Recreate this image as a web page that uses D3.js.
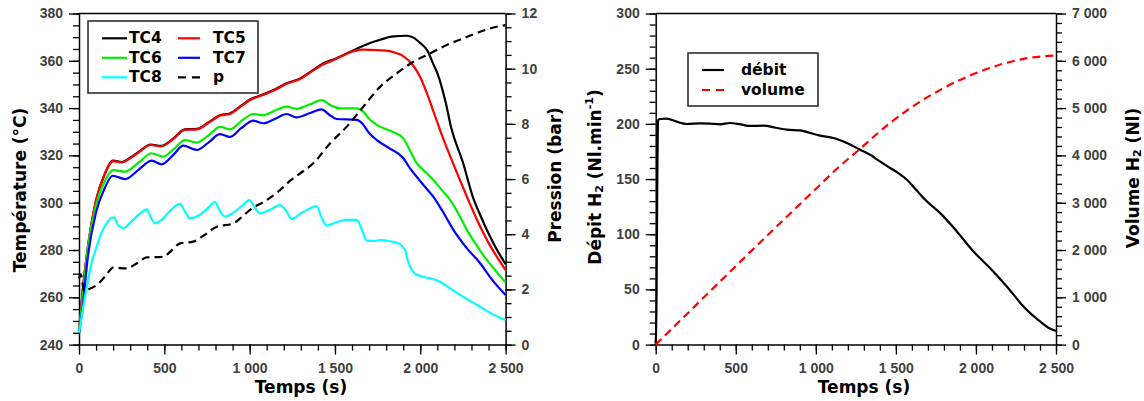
<!DOCTYPE html>
<html><head><meta charset="utf-8">
<script src="https://cdn.jsdelivr.net/npm/d3@7"></script>
<style>
body{margin:0;background:#fff;}
svg{display:block;font-family:"DejaVu Sans",sans-serif;}
.tick text{font-size:14px;font-weight:bold;fill:#404040;}
.title{font-size:17px;font-weight:bold;fill:#000;}
.leg{font-size:15.5px;font-weight:bold;fill:#000;}
</style></head>
<body>
<svg id="c" width="1144" height="401"></svg>
<script>
// ---------- data: left chart ----------
const tTC4 = [0,25,50,100,150,200,250,300,350,420,480,550,620,690,760,830,880,950,1000,1080,1150,1220,1290,1360,1430,1500,1590,1650,1710,1770,1830,1920,1960,2000,2040,2080,2100,2150,2180,2250,2310,2350,2400,2450,2500];
const TC4  = [245,265,280,301,312,317.8,317.2,319,321.5,324.6,324,327,331,331.2,334,337.1,337.6,341,343.5,345.8,348,350.6,352.3,355.5,358.9,360.8,363.8,365.8,367.6,369,370.2,370.6,369.8,367.5,364.5,358,354.8,342,332,317,302,295,287,280,274];
const tTC5 = [0,25,50,100,150,200,250,300,350,420,480,550,620,690,760,830,880,950,1000,1080,1150,1220,1290,1360,1430,1500,1550,1600,1660,1750,1820,1870,1900,1960,2000,2040,2090,2140,2190,2230,2300,2350,2400,2450,2500];
const TC5  = [245,265,280,301,312,317.6,317,318.8,321.3,324.4,323.8,326.8,330.8,331,333.8,336.9,337.4,340.8,343.3,345.6,347.8,350.4,352.1,355.3,358.4,360.6,362.3,363.8,364.7,364.5,364.1,363,362,357.8,353,346,336,326,317,310,298,290,283,277,271.5];
const tTC6 = [0,25,50,100,150,200,270,350,426,494,560,621,690,760,826,885,950,1022,1080,1150,1217,1275,1350,1422,1480,1530,1628,1666,1700,1745,1820,1901,1940,1979,2030,2077,2130,2175,2230,2273,2330,2390,2450,2500];
const TC6  = [245,262,280,299,309,313.8,313.1,317,320.9,319.5,323,326.5,325.4,328.5,332.1,331,334.5,337.5,337,339,340.6,339.7,341.5,343.4,341,339.9,339.9,338.5,335.5,332.9,330.5,327.2,322,316.7,313,309.6,305,301.1,294.5,288.5,282,275.8,270.5,266.3];
const tTC7 = [0,25,50,100,150,197,270,350,426,484,550,611,690,760,826,885,950,1022,1080,1150,1217,1275,1350,1422,1470,1510,1628,1660,1700,1745,1820,1901,1940,1979,2030,2077,2130,2194,2270,2351,2420,2500];
const TC7  = [245,258,276,296,306,311.4,310,314,317.8,316.2,320,324.1,322.3,325.5,329,327.8,331.5,334.7,333.6,335.5,337.5,336.1,337.8,339.5,337,335.4,335,333.5,329.5,326.5,323,318.8,314.5,311,306.5,302.5,296.5,288.5,281,274.4,267.5,261];
const tTC8 = [0,25,50,75,104,130,162,190,205,225,260,300,350,397,420,445,480,540,592,615,651,700,760,797,825,856,900,960,999,1030,1061,1120,1178,1210,1247,1300,1360,1393,1420,1452,1500,1569,1628,1660,1686,1730,1764,1830,1872,1911,1925,1940,1970,1999,2060,2116,2170,2234,2290,2351,2420,2500];
const TC8  = [245,256,266,275,281.4,287,291.3,293.6,293.8,291,289.2,291.5,295,297.2,294,291.3,292.5,297,299.5,297,293.4,294.5,298,300.4,296.5,294.1,295.5,299,301.1,298,295.5,297,299,297,293.1,295.5,297.8,298.6,294,290.3,291.5,292.7,292.7,288,284,283.8,284.2,283.6,282.8,280,276,272.9,270,269,268,266.6,264,261,258.5,256,253,250.4];
const tP   = [0,10,30,45,104,150,201,279,340,397,494,540,592,670,730,807,904,950,1002,1100,1178,1240,1295,1373,1471,1569,1666,1764,1862,1960,2057,2155,2253,2351,2448,2500];
const P    = [2.4,2.55,1.95,1.98,2.16,2.45,2.79,2.76,2.95,3.16,3.18,3.4,3.67,3.73,3.95,4.27,4.39,4.6,4.88,5.24,5.6,5.95,6.2,6.57,7.29,7.9,8.62,9.34,9.83,10.25,10.55,10.86,11.1,11.34,11.52,11.58];
// ---------- data: right chart ----------
const tDebit = [0,5,10,15,25,69,130,194,277,340,402,464,530,589,673,750,819,902,960,1027,1110,1193,1277,1339,1400,1464,1520,1569,1625,1683,1777,1881,1985,2089,2194,2298,2402,2450,2500];
const debit  = [0,40,150,203,204.4,204.7,202,199.9,200.5,200.3,199.6,200.8,199.5,198.1,198.4,196.5,194.7,194.1,192,189.3,187.2,182.7,176.6,172,166,160,155,149.4,140.5,131.2,119.1,102.5,84.3,69.2,52.5,34.4,20.8,15.5,12.3];
const tVol   = [0,250,500,750,1000,1152,1277,1370,1464,1570,1673,1780,1881,1985,2089,2194,2298,2400,2500];
const volume = [0,830,1660,2480,3290,3780,4140,4420,4686,4950,5182,5390,5566,5720,5850,5960,6041,6090,6111];
// ---------- ticks / labels ----------
const xTicks = [0,500,1000,1500,2000,2500];
const tempTicks = [240,260,280,300,320,340,360,380];
const presTicks = [0,2,4,6,8,10,12];
const debitTicks = [0,50,100,150,200,250,300];
const volTicks = [0,1000,2000,3000,4000,5000,6000,7000];
const legLeft = ["TC4","TC5","TC6","TC7","TC8","p"];
const legRight = ["débit","volume"];

const svg = d3.select("#c");
const fmt = d => d3.format(",")(d).replace(/,/g, " ");
const yTop = 13.5, yBot = 344.6;

function axisStyle(g){
  g.select(".domain").attr("stroke","#000").attr("stroke-width",1.5);
  g.selectAll(".tick line").attr("stroke","#000").attr("stroke-width",1.3);
}
function minor(g, axisGen){
  g.call(axisGen); g.select(".domain").remove();
  g.selectAll(".tick line").attr("stroke","#000").attr("stroke-width",1.3);
}
function drawLine(x, y, tArr, vArr, color, dash){
  const data = tArr.map((t,i)=>[t, vArr[i]]);
  const line = d3.line().x(d=>x(d[0])).y(d=>y(d[1])).curve(d3.curveMonotoneX);
  svg.append("path").datum(data).attr("d", line).attr("fill","none")
    .attr("stroke", color).attr("stroke-width", 2.2)
    .attr("stroke-dasharray", dash || null).attr("stroke-linejoin","round");
}

// ================= LEFT CHART =================
const x1 = d3.scaleLinear().domain([0,2500]).range([79,505.6]);
const yT = d3.scaleLinear().domain([240,380]).range([yBot,yTop]);
const yP = d3.scaleLinear().domain([0,12]).range([yBot,yTop]);

svg.append("g").attr("transform",`translate(0,${yBot})`).call(g=>minor(g, d3.axisBottom(x1).tickValues(d3.range(0,2501,100)).tickSize(6).tickFormat("")));
svg.append("g").attr("transform",`translate(79,0)`).call(g=>minor(g, d3.axisLeft(yT).tickValues(d3.range(240,381,5)).tickSize(6).tickFormat("")));
svg.append("g").attr("transform",`translate(505.6,0)`).call(g=>minor(g, d3.axisRight(yP).tickValues(d3.range(0,12.01,0.5)).tickSize(6).tickFormat("")));
svg.append("g").attr("transform",`translate(0,${yBot})`).call(d3.axisBottom(x1).tickValues(xTicks).tickSize(10).tickSizeOuter(0).tickPadding(8.7).tickFormat(fmt)).call(axisStyle);
svg.append("g").attr("transform",`translate(79,0)`).call(d3.axisLeft(yT).tickValues(tempTicks).tickSize(10).tickSizeOuter(0).tickPadding(6)).call(axisStyle);
svg.append("g").attr("transform",`translate(505.6,0)`).call(d3.axisRight(yP).tickValues(presTicks).tickSize(10).tickSizeOuter(0).tickPadding(6)).call(axisStyle);
svg.append("line").attr("x1",79).attr("x2",505.6).attr("y1",yTop).attr("y2",yTop).attr("stroke","#000").attr("stroke-width",1.5);

const colL = {TC4:"#000000",TC5:"#ff0000",TC6:"#00ee00",TC7:"#0000ff",TC8:"#00ffff",p:"#000000"};
drawLine(x1,yT,tTC4,TC4,colL.TC4);
drawLine(x1,yT,tTC5,TC5,colL.TC5);
drawLine(x1,yT,tTC6,TC6,colL.TC6);
drawLine(x1,yT,tTC7,TC7,colL.TC7);
drawLine(x1,yT,tTC8,TC8,colL.TC8);
drawLine(x1,yP,tP,P,colL.p,"8,5");

svg.append("text").attr("class","title").attr("text-anchor","middle").attr("x",301).attr("y",393).text("Temps (s)");
svg.append("text").attr("class","title").attr("text-anchor","middle").attr("dominant-baseline","central")
  .attr("transform","translate(20,190) rotate(-90)").text("Température (°C)");
svg.append("text").attr("class","title").attr("text-anchor","middle").attr("dominant-baseline","central")
  .attr("transform","translate(555,175) rotate(-90)").text("Pression (bar)");

// legend left
const lg = svg.append("g");
lg.append("rect").attr("x",88).attr("y",21).attr("width",170).attr("height",72).attr("fill","#fff").attr("stroke","#222").attr("stroke-width",1.5);
legLeft.forEach((k,i)=>{
  const col = i%2, row = Math.floor(i/2);
  const yy = 38.3 + row*19.5;
  const lx0 = col===0 ? 102 : 178, lx1 = col===0 ? 127 : 200, tx = col===0 ? 129 : 213;
  lg.append("line").attr("x1",lx0).attr("x2",lx1).attr("y1",yy).attr("y2",yy)
    .attr("stroke",colL[k]).attr("stroke-width",2.2).attr("stroke-dasharray",k==="p"?"8,6":null);
  lg.append("text").attr("class","leg").attr("x",tx).attr("y",yy).attr("dominant-baseline","central").text(k);
});

// ================= RIGHT CHART =================
const x2 = d3.scaleLinear().domain([0,2500]).range([655.7,1056]);
const yD = d3.scaleLinear().domain([0,300]).range([yBot,yTop]);
const yV = d3.scaleLinear().domain([0,7000]).range([yBot,yTop]);

svg.append("g").attr("transform",`translate(0,${yBot})`).call(g=>minor(g, d3.axisBottom(x2).tickValues(d3.range(0,2501,100)).tickSize(6).tickFormat("")));
svg.append("g").attr("transform",`translate(655.7,0)`).call(g=>minor(g, d3.axisLeft(yD).tickValues(d3.range(0,301,10)).tickSize(6).tickFormat("")));
svg.append("g").attr("transform",`translate(1056,0)`).call(g=>minor(g, d3.axisRight(yV).tickValues(d3.range(0,7001,200)).tickSize(6).tickFormat("")));
svg.append("g").attr("transform",`translate(0,${yBot})`).call(d3.axisBottom(x2).tickValues(xTicks).tickSize(10).tickSizeOuter(0).tickPadding(8.7).tickFormat(fmt)).call(axisStyle);
svg.append("g").attr("transform",`translate(655.7,0)`).call(d3.axisLeft(yD).tickValues(debitTicks).tickSize(10).tickSizeOuter(0).tickPadding(6)).call(axisStyle);
svg.append("g").attr("transform",`translate(1056,0)`).call(d3.axisRight(yV).tickValues(volTicks).tickSize(10).tickSizeOuter(0).tickPadding(6).tickFormat(fmt)).call(axisStyle);
svg.append("line").attr("x1",655.7).attr("x2",1056).attr("y1",yTop).attr("y2",yTop).attr("stroke","#000").attr("stroke-width",1.5);

drawLine(x2,yD,tDebit,debit,"#000");
drawLine(x2,yV,tVol,volume,"#ff0000","8,5");

svg.append("text").attr("class","title").attr("text-anchor","middle").attr("x",864).attr("y",393).text("Temps (s)");
const tD = svg.append("text").attr("class","title").attr("text-anchor","middle").attr("dominant-baseline","central")
  .attr("transform","translate(595,177) rotate(-90)");
tD.append("tspan").text("Dépit H");
tD.append("tspan").attr("font-size","11px").attr("dy","4").text("2");
tD.append("tspan").attr("dy","-4").text(" (Nl.min");
tD.append("tspan").attr("font-size","11px").attr("dy","-6").text("-1");
tD.append("tspan").attr("dy","6").text(")");
const tV = svg.append("text").attr("class","title").attr("text-anchor","middle").attr("dominant-baseline","central")
  .attr("transform","translate(1133,178) rotate(-90)");
tV.append("tspan").text("Volume H");
tV.append("tspan").attr("font-size","11px").attr("dy","4").text("2");
tV.append("tspan").attr("dy","-4").text(" (Nl)");

// legend right
const lr = svg.append("g");
lr.append("rect").attr("x",688).attr("y",53).attr("width",130).attr("height",53).attr("fill","#fff").attr("stroke","#222").attr("stroke-width",1.5);
legRight.forEach((k,i)=>{
  const yy = 70 + i*20;
  lr.append("line").attr("x1",702).attr("x2",724).attr("y1",yy).attr("y2",yy)
    .attr("stroke", i===0?"#000":"#ff0000").attr("stroke-width",2.2).attr("stroke-dasharray", i===1?"8,6":null);
  lr.append("text").attr("class","leg").attr("x",741).attr("y",yy).attr("dominant-baseline","central").text(k);
});
</script>
</body></html>
